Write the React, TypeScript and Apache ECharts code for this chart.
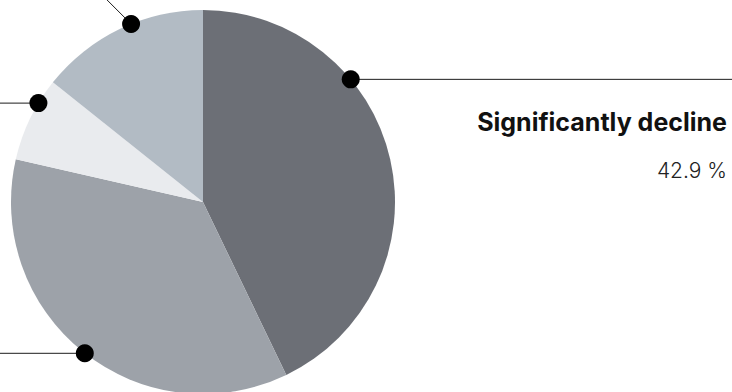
import React, { useEffect, useRef } from "react";
import * as echarts from "echarts";

// ---- data ----
const categories = ["Significantly decline", "Slightly decline", "No change", "Increase"];
const values = [6, 5, 1, 2];
const sliceColors = ["#6c6f76", "#9da2a9", "#e9ebee", "#b2bbc4"];

// ---- layout ----
const W = 732;
const H = 392;
const CENTER: [number, number] = [203, 202];
const RADIUS = 192;
// angle (deg, clockwise from 12 o'clock) where each leader line starts
const anchorAngles = [50.3, 218, 301, 338];
// leader line direction: "right" | "left" | "upleft"
const leaderDir = ["right", "left", "left", "upleft"];

export default function App() {
  const ref = useRef<HTMLDivElement>(null);

  useEffect(() => {
    document.body.style.margin = "0";
    const chart = echarts.init(ref.current!, undefined, { renderer: "svg" });

    const anchor = (i: number) => {
      const a = (anchorAngles[i] * Math.PI) / 180;
      return [CENTER[0] + RADIUS * Math.sin(a), CENTER[1] - RADIUS * Math.cos(a)];
    };

    const option: any = {
      animation: false,
      backgroundColor: "#ffffff",
      textStyle: { fontFamily: "Inter, sans-serif" },
      series: [
        {
          type: "pie",
          center: CENTER,
          radius: RADIUS,
          startAngle: 90,
          clockwise: true,
          percentPrecision: 1,
          silent: true,
          data: categories.map((name, i) => ({
            name,
            value: values[i],
            itemStyle: { color: sliceColors[i] },
            label: { show: i === 0 },
          })),
          labelLine: { show: false },
          label: {
            formatter: "{name|{b}}\n{val|{d} %}",
            align: "right",
            rich: {
              name: {
                fontFamily: "Inter, sans-serif",
                fontSize: 25,
                fontWeight: 700,
                color: "#111111",
                lineHeight: 40,
                align: "right",
              },
              val: {
                fontFamily: "Inter, sans-serif",
                fontSize: 21,
                fontWeight: 300,
                color: "#222222",
                lineHeight: 56,
                align: "right",
              },
            },
          },
          labelLayout: (params: any) => {
            if (params.dataIndex !== 0) return {};
            return { x: W - 5, y: 102, align: "right", verticalAlign: "top" };
          },
        },
        {
          type: "custom",
          coordinateSystem: "none",
          silent: true,
          z: 5,
          data: values.map((_, i) => [i]),
          renderItem: (params: any, api: any) => {
            const i = params.dataIndex;
            const [x, y] = anchor(i);
            const w = api.getWidth();
            let end: number[];
            if (leaderDir[i] === "right") end = [w, y];
            else if (leaderDir[i] === "left") end = [-20, y];
            else end = [x - 80, y - 80];
            return {
              type: "group",
              children: [
                {
                  type: "polyline",
                  shape: { points: [[x, y], end] },
                  style: { stroke: "#1c1c1c", lineWidth: 1, fill: null },
                },
                {
                  type: "circle",
                  shape: { cx: x, cy: y, r: 9 },
                  style: { fill: "#000000" },
                },
              ],
            };
          },
        },
      ],
    };
    chart.setOption(option);
    return () => chart.dispose();
  }, []);

  return (
    <div
      ref={ref}
      style={{ position: "absolute", left: 0, top: 0, width: W, height: H }}
    />
  );
}
